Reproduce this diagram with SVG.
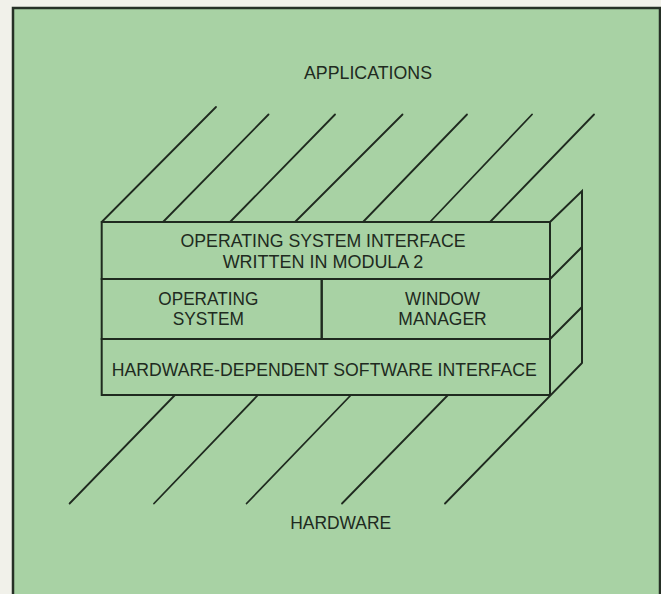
<svg xmlns="http://www.w3.org/2000/svg" width="661" height="594" viewBox="0 0 661 594">
<style>
.ln{stroke:#1f2a1f;stroke-width:1.8;fill:none;stroke-linecap:round;stroke-linejoin:round}
.bx{stroke:#1f2a1f;stroke-width:2;fill:none;stroke-linejoin:miter}
text{font-family:"Liberation Sans",Arial,sans-serif;font-size:17.5px;fill:#202a20;text-anchor:middle}
</style>
<rect x="0" y="0" width="661" height="594" fill="#f1f1ea"/>
<rect x="13" y="8" width="647" height="600" fill="#a8d2a4" stroke="#263026" stroke-width="2.5"/>
<g id="connectors">
<line class="ln" x1="101.7" y1="222" x2="216" y2="107"/>
<line class="ln" x1="163" y1="222" x2="268.5" y2="114.5"/>
<line class="ln" x1="230" y1="222" x2="335" y2="114.5"/>
<line class="ln" x1="295" y1="222" x2="402.5" y2="114.5"/>
<line class="ln" x1="363" y1="222" x2="467" y2="114.5"/>
<line class="ln" x1="430" y1="222" x2="532" y2="114.5"/>
<line class="ln" x1="490" y1="222" x2="594" y2="114.5"/>
<line class="ln" x1="175" y1="395" x2="69.6" y2="503.5"/>
<line class="ln" x1="258" y1="395" x2="154" y2="503.5"/>
<line class="ln" x1="351" y1="395" x2="246.6" y2="503.5"/>
<line class="ln" x1="448" y1="395" x2="342" y2="503.5"/>
<line class="ln" x1="582" y1="363" x2="445" y2="503.5"/>
</g>
<g id="side">
<path class="bx" d="M550 222 L582 191 L582 363 M550 279 L582 247 M550 339 L582 307"/>
</g>
<g id="os-interface">
<rect class="bx" x="101.7" y="222" width="448.3" height="57"/>
<text x="323" y="247" textLength="285" lengthAdjust="spacingAndGlyphs">OPERATING SYSTEM INTERFACE</text>
<text x="323" y="267.5" textLength="200.7" lengthAdjust="spacingAndGlyphs">WRITTEN IN MODULA 2</text>
</g>
<g id="operating-system">
<rect class="bx" x="101.7" y="279" width="220" height="60"/>
<text x="208.3" y="304.5" textLength="100" lengthAdjust="spacingAndGlyphs">OPERATING</text>
<text x="208.3" y="324.5" textLength="71.3" lengthAdjust="spacingAndGlyphs">SYSTEM</text>
</g>
<g id="window-manager">
<rect class="bx" x="321.7" y="279" width="228.3" height="60"/>
<text x="442.5" y="304.5" textLength="75" lengthAdjust="spacingAndGlyphs">WINDOW</text>
<text x="442.5" y="324.5" textLength="88.3" lengthAdjust="spacingAndGlyphs">MANAGER</text>
</g>
<g id="hw-interface">
<rect class="bx" x="101.7" y="339" width="448.3" height="56"/>
<text x="324.2" y="375.5" textLength="425" lengthAdjust="spacingAndGlyphs">HARDWARE-DEPENDENT SOFTWARE INTERFACE</text>
</g>
<g id="applications">
<text x="368" y="79" textLength="128" lengthAdjust="spacingAndGlyphs">APPLICATIONS</text>
</g>
<g id="hardware">
<text x="340.7" y="528.5" textLength="101" lengthAdjust="spacingAndGlyphs">HARDWARE</text>
</g>
</svg>
